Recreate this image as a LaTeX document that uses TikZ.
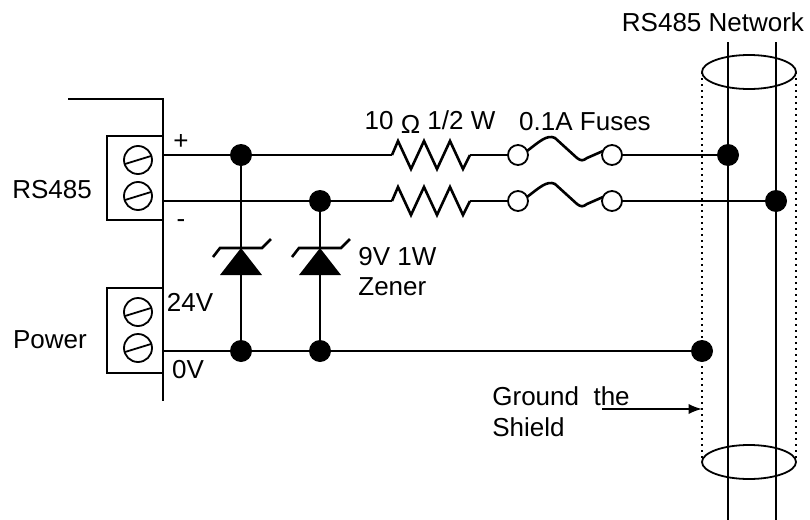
\documentclass[tikz,border=0pt]{standalone}
\usepackage{fontspec}
\setmainfont{Liberation Sans}
\usetikzlibrary{arrows}

\tikzstyle{wire} = [line width=1.3pt]
\tikzstyle{thin} = [line width=0.9pt]
\tikzstyle{dot} = [circle,fill,inner sep=0pt,minimum size=11pt]
\tikzstyle{screw} = [draw,circle,line width=0.9pt,inner sep=0pt,minimum size=14pt]
\tikzstyle{pin} = [draw,circle,line width=0.9pt,fill=white,inner sep=0pt,minimum size=10pt]
\tikzstyle{lbl} = [inner sep=0pt,font=\fontsize{13}{15}\selectfont]
\tikzstyle{shield} = [line width=1pt,dotted]

\newcommand\screw[1]{\node[screw] at (#1) {};
	\draw[thin] (#1) ++(-13,4) -- ++(26,-8);}
\newcommand\resistor[1]{\draw[wire] (#1) -- ++(6,-14) -- ++(13,28) -- ++(13,-28)
	-- ++(13,28) -- ++(13,-28) -- ++(13,28) -- ++(7,-14);}
\newcommand\fusewire[2]{\draw[wire] (#1) ++(9,-4) .. controls ++(12,-9) and ++(-8,-4) .. ++(28,-13)
	-- ++(22,20) .. controls ++(4,3) and ++(-4,3) .. ++(10,0) -- ([xshift=-4.5pt,yshift=2pt]#2.center);}
\newcommand\zener[1]{\fill (#1) -- ++(-21,27) -- ++(42,0) -- cycle;
	\draw[wire] (#1) ++(-28,9) -- ++(7,-9) -- ++(42,0) -- ++(9,-9);}

\begin{document}
\begin{tikzpicture}[x=0.5pt,y=-0.5pt]
\useasboundingbox (0,0) rectangle (810,520);

% junction points
\coordinate (pA) at (163,155);
\coordinate (pB) at (241,155);
\coordinate (rA) at (392,155);
\coordinate (rAe) at (470,155);
\coordinate (cA) at (728,155);
\coordinate (mA) at (163,201);
\coordinate (mB) at (320,201);
\coordinate (rB) at (392,201);
\coordinate (rBe) at (470,201);
\coordinate (cB) at (776,201);
\coordinate (gA) at (163,351);
\coordinate (gB) at (241,351);
\coordinate (gC) at (320,351);
\coordinate (gD) at (702,351);
\coordinate (zA) at (241,248);
\coordinate (zB) at (320,248);

% enclosure and terminal blocks
\draw[wire] (68,99) -- (163,99) -- (163,401);
\draw[wire] (163,136) -- (107,136) -- (107,220) -- (163,220);
\draw[wire] (163,288) -- (107,288) -- (107,373) -- (163,373);
\screw{138,160}
\screw{138,196}
\screw{138,312}
\screw{138,348}

% cable with shield
\draw[wire] (728,42) -- (728,520);
\draw[wire] (776,42) -- (776,520);
\draw[thin] (749,72) ellipse [x radius=47, y radius=17];
\draw[thin] (749,462) ellipse [x radius=47, y radius=17];
\draw[shield] (702,72) -- (702,462);
\draw[shield] (796,72) -- (796,462);

% fuse pins
\node[pin] (fA1) at (518,155) {};
\node[pin] (fA2) at (612,155) {};
\node[pin] (fB1) at (518,201) {};
\node[pin] (fB2) at (612,201) {};

% wiring
\draw[wire] (pA) -- (rA);
\resistor{rA}
\draw[wire] (rAe) -- (fA1);
\fusewire{fA1}{fA2}
\draw[wire] (fA2) -- (cA);
\draw[wire] (mA) -- (rB);
\resistor{rB}
\draw[wire] (rBe) -- (fB1);
\fusewire{fB1}{fB2}
\draw[wire] (fB2) -- (cB);
\draw[wire] (gA) -- (gD);
\draw[wire] (pB) -- (gB);
\draw[wire] (mB) -- (gC);
\zener{zA}
\zener{zB}

% junction dots
\foreach \j in {pB,mB,gB,gC,gD,cA,cB}
	\node[dot] at (\j) {};

% labels
\node[lbl] (net) at (713,22) {RS485 Network};
\node[lbl] (rs) at (52,190) {RS485};
\node[lbl] (pwr) at (50,340) {Power};
\node[lbl] (plus) at (181,142) {+};
\node[lbl] (minus) at (181,224) {-};
\node[lbl] (v24) at (190,302) {24V};
\node[lbl] (v0) at (188,370) {0V};
\node[lbl] (res) at (430,122) {10 \raisebox{-2pt}{Ω} 1/2 W};
\node[lbl] (fus) at (585,122) {0.1A Fuses};
\node[lbl,anchor=west] (zv) at (358,257) {9V 1W};
\node[lbl,anchor=west] (zn) at (358,287) {Zener};
\node[lbl,anchor=west] (gnd) at (492,396) {Ground\ \ the};
\node[lbl,anchor=west] (shd) at (492,427) {Shield};
\coordinate (arr) at (602,409);
\coordinate (sh) at (702,409);
\draw[wire,-latex] (arr) -- (sh);

\end{tikzpicture}
\end{document}
